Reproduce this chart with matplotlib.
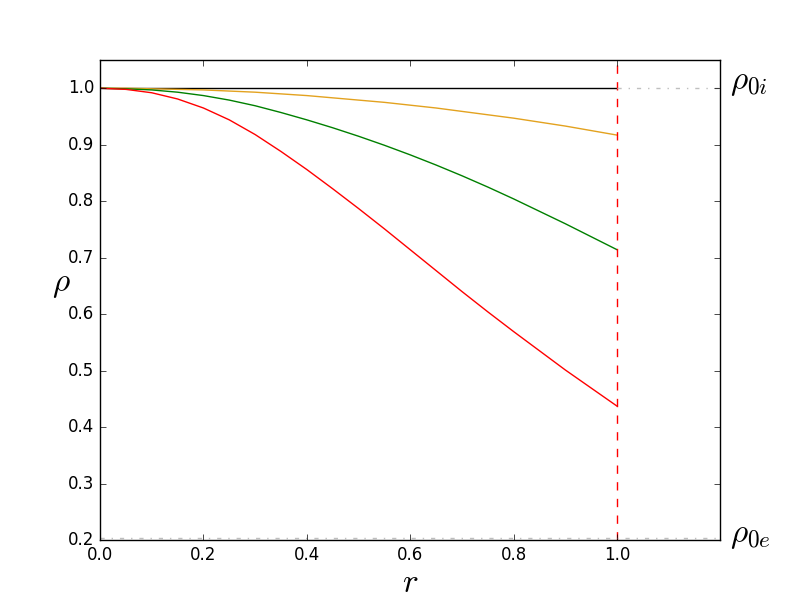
import matplotlib
matplotlib.use("Agg")
import matplotlib.pyplot as plt

plt.style.use("classic")
plt.rcParams["mathtext.fontset"] = "cm"

# radial positions inside the tube
r = [0.0, 0.05, 0.1, 0.15, 0.2, 0.25, 0.3, 0.35, 0.4, 0.45, 0.5,
     0.55, 0.6, 0.65, 0.7, 0.75, 0.8, 0.85, 0.9, 0.95, 1.0]

rho_flat = [1.0] * len(r)
rho_orange = [1.000, 1.000, 0.999, 0.998, 0.997, 0.995, 0.993, 0.990, 0.987, 0.983, 0.979,
              0.975, 0.970, 0.965, 0.959, 0.953, 0.947, 0.940, 0.933, 0.925, 0.917]
rho_green = [1.000, 0.999, 0.997, 0.993, 0.987, 0.979, 0.969, 0.957, 0.944, 0.930, 0.915,
             0.899, 0.882, 0.864, 0.845, 0.825, 0.804, 0.782, 0.760, 0.737, 0.714]
rho_red = [1.000, 0.998, 0.992, 0.981, 0.965, 0.944, 0.918, 0.888, 0.856, 0.822, 0.787,
           0.751, 0.714, 0.677, 0.640, 0.604, 0.569, 0.535, 0.501, 0.469, 0.437]

rho0i = 1.0
rho0e = 0.204
r_edge = 1.0
r_max = 1.199

fig, ax = plt.subplots(figsize=(8, 6), dpi=100)
fig.patch.set_facecolor("white")

ax.plot(r, rho_flat, color="k", lw=1)
ax.plot(r, rho_orange, color="#e3a21f", lw=1)
ax.plot(r, rho_green, color="green", lw=1)
ax.plot(r, rho_red, color="red", lw=1)

ax.axvline(r_edge, color="red", ls="--", lw=1)
ax.plot([r_edge, r_max], [rho0i, rho0i], color="0.75", ls="-.", lw=1)
ax.plot([0, r_max], [rho0e, rho0e], color="0.75", ls="-.", lw=1)

ax.set_xlim(0, r_max)
ax.set_ylim(0.2, 1.05)
ax.set_xticks([0.0, 0.2, 0.4, 0.6, 0.8, 1.0])

ax.set_xlabel(r"$r$", fontsize=24, labelpad=2)
ax.set_ylabel(r"$\rho$", fontsize=24, rotation=0)

ax.text(r_max + 0.02, rho0i + 0.012, r"$\rho_{0i}$", fontsize=24, va="center", ha="left")
ax.text(r_max + 0.02, rho0e + 0.006, r"$\rho_{0e}$", fontsize=24, va="center", ha="left")

fig.savefig("out.png", dpi=100, facecolor="white")
